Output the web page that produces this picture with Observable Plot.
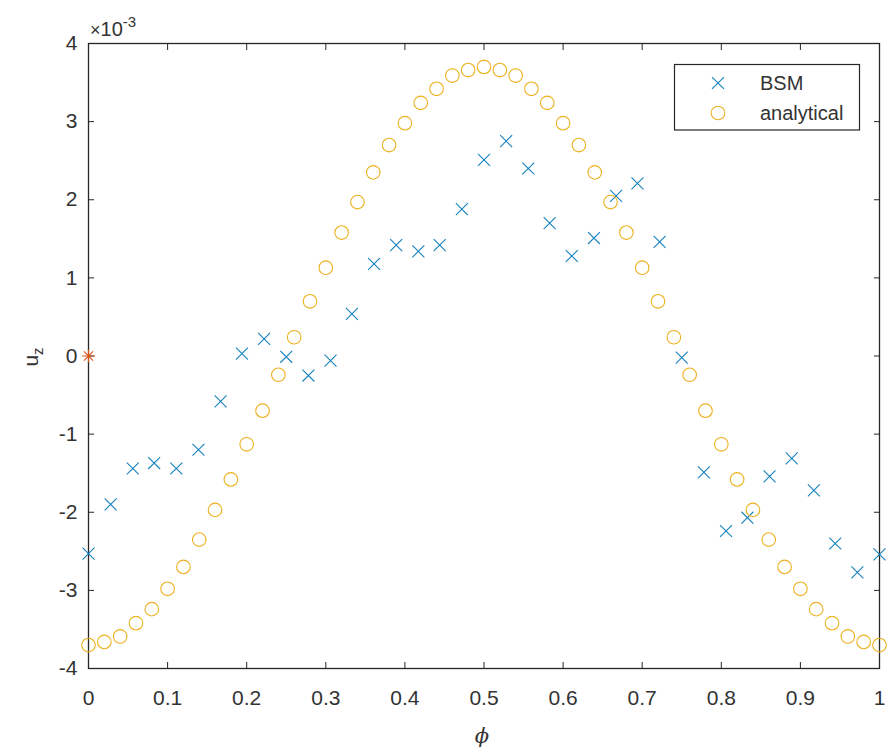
<!DOCTYPE html>
<html><head><meta charset="utf-8">
<script src="https://cdn.jsdelivr.net/npm/d3@7"></script>
<script src="https://cdn.jsdelivr.net/npm/@observablehq/plot@0.6"></script>
<style>body{margin:0;background:#fff}</style>
</head><body><div id="chart"></div>
<script>
// values of u_z in units of 1e-3
const bsmPhi = [0,0.028,0.056,0.083,0.111,0.139,0.167,0.194,0.222,0.25,0.278,0.306,0.333,0.361,0.389,0.417,0.444,0.472,0.5,0.528,0.556,0.583,0.611,0.639,0.667,0.694,0.722,0.75,0.778,0.806,0.833,0.861,0.889,0.917,0.944,0.972,1];
const bsmUz = [-2.53,-1.90,-1.44,-1.37,-1.44,-1.20,-0.58,0.03,0.22,-0.01,-0.25,-0.06,0.54,1.18,1.42,1.34,1.42,1.88,2.51,2.75,2.40,1.70,1.28,1.51,2.05,2.21,1.46,-0.02,-1.49,-2.24,-2.07,-1.54,-1.31,-1.72,-2.40,-2.77,-2.54];
const anaPhi = [0,0.02,0.04,0.06,0.08,0.1,0.12,0.14,0.16,0.18,0.2,0.22,0.24,0.26,0.28,0.3,0.32,0.34,0.36,0.38,0.4,0.42,0.44,0.46,0.48,0.5,0.52,0.54,0.56,0.58,0.6,0.62,0.64,0.66,0.68,0.7,0.72,0.74,0.76,0.78,0.8,0.82,0.84,0.86,0.88,0.9,0.92,0.94,0.96,0.98,1];
const anaUz = [-3.70,-3.66,-3.59,-3.42,-3.24,-2.98,-2.70,-2.35,-1.97,-1.58,-1.13,-0.70,-0.24,0.24,0.70,1.13,1.58,1.97,2.35,2.70,2.98,3.24,3.42,3.59,3.66,3.70,3.66,3.59,3.42,3.24,2.98,2.70,2.35,1.97,1.58,1.13,0.70,0.24,-0.24,-0.70,-1.13,-1.58,-1.97,-2.35,-2.70,-2.98,-3.24,-3.42,-3.59,-3.66,-3.70];
const originPhi = [0];
const originUz = [0];
const xTicks = [0,0.1,0.2,0.3,0.4,0.5,0.6,0.7,0.8,0.9,1];
const yTicks = [-4,-3,-2,-1,0,1,2,3,4];
const seriesNames = ["BSM","analytical"];

const bsmColor = "#1582BD", anaColor = "#EDB120", redColor = "#D95319", axisColor = "#262626", textColor = "#333333";
const bsm = bsmPhi.map((p,i)=>({phi:p, uz:bsmUz[i]}));
const ana = anaPhi.map((p,i)=>({phi:p, uz:anaUz[i]}));
const origin = originPhi.map((p,i)=>({phi:p, uz:originUz[i]}));

const rTimes = 5.5, rCircle = 6.8, rStar = 4.2;
const chart = Plot.plot({
  width: 889, height: 752,
  marginLeft: 88, marginRight: 10, marginTop: 43, marginBottom: 84,
  x: {domain:[0,1]}, y: {domain:[-4,4]},
  style: {fontFamily:"'Liberation Sans', Arial, sans-serif", fontSize:"21px", color:textColor, background:"#fff", overflow:"visible"},
  marks: [
    Plot.frame({stroke:axisColor, strokeWidth:1.3}),
    Plot.axisX({anchor:"bottom", ticks:xTicks, tickSize:-6, tickPadding:28, tickFormat:d=>String(d), label:null, stroke:axisColor}),
    Plot.axisX({anchor:"top", ticks:xTicks, tickSize:-6, tickFormat:()=>"", label:null, stroke:axisColor}),
    Plot.axisY({anchor:"left", ticks:yTicks, tickSize:-6, tickPadding:17, tickFormat:d=>String(d), label:null, stroke:axisColor}),
    Plot.axisY({anchor:"right", ticks:yTicks, tickSize:-6, tickFormat:()=>"", label:null, stroke:axisColor}),
    Plot.dot(bsm, {x:"phi", y:"uz", symbol:"times", r:rTimes, stroke:bsmColor, strokeWidth:1.1}),
    Plot.dot(origin, {x:"phi", y:"uz", symbol:"times", r:rStar, stroke:redColor, strokeWidth:1.1}),
    Plot.dot(origin, {x:"phi", y:"uz", symbol:"plus", r:rStar, stroke:redColor, strokeWidth:1.1}),
    Plot.dot(ana, {x:"phi", y:"uz", symbol:"circle", r:rCircle, stroke:anaColor, strokeWidth:1.1})
  ]
});
document.getElementById("chart").appendChild(chart);

const svg = d3.select(chart);
const font = "'Liberation Sans', Arial, sans-serif";
// exponent
const ex = svg.append("text").attr("x",90).attr("y",36).attr("text-anchor","start").attr("font-family",font).attr("font-size",20).attr("fill",textColor);
ex.append("tspan").attr("font-size",18).text("×");
ex.append("tspan").text("10");
ex.append("tspan").attr("dy",-9).attr("font-size",15).text("-3");
// y label
const yl = svg.append("text").attr("transform","translate(38,357) rotate(-90)").attr("text-anchor","middle")
  .attr("font-family",font).attr("font-size",21).attr("fill",textColor);
yl.append("tspan").text("u");
yl.append("tspan").attr("dy",5).attr("font-size",15).text("z");
// x label
svg.append("text").attr("x",482).attr("y",743).attr("text-anchor","middle").attr("font-family","'DejaVu Serif', serif")
  .attr("font-style","italic").attr("font-size",21).attr("fill",textColor).text("ϕ");
// legend
const lg = svg.append("g").attr("text-anchor","start");
lg.append("rect").attr("x",674.5).attr("y",64.5).attr("width",185).attr("height",65.5).attr("fill","#fff").attr("stroke",axisColor).attr("stroke-width",1.2);
lg.append("path").attr("d", d3.symbol(d3.symbolTimes, Math.PI*rTimes*rTimes)()).attr("transform","translate(718,83)").attr("fill","none").attr("stroke",bsmColor).attr("stroke-width",1.1);
lg.append("path").attr("d", d3.symbol(d3.symbolCircle, Math.PI*rCircle*rCircle)()).attr("transform","translate(718,113)").attr("fill","none").attr("stroke",anaColor).attr("stroke-width",1.1);
seriesNames.forEach((n,i)=>{
  lg.append("text").attr("x",760).attr("y",83+i*30).attr("dy","0.35em").attr("text-anchor","start").attr("font-family",font).attr("font-size",20).attr("fill",textColor).text(n);
});
</script>
</body></html>
